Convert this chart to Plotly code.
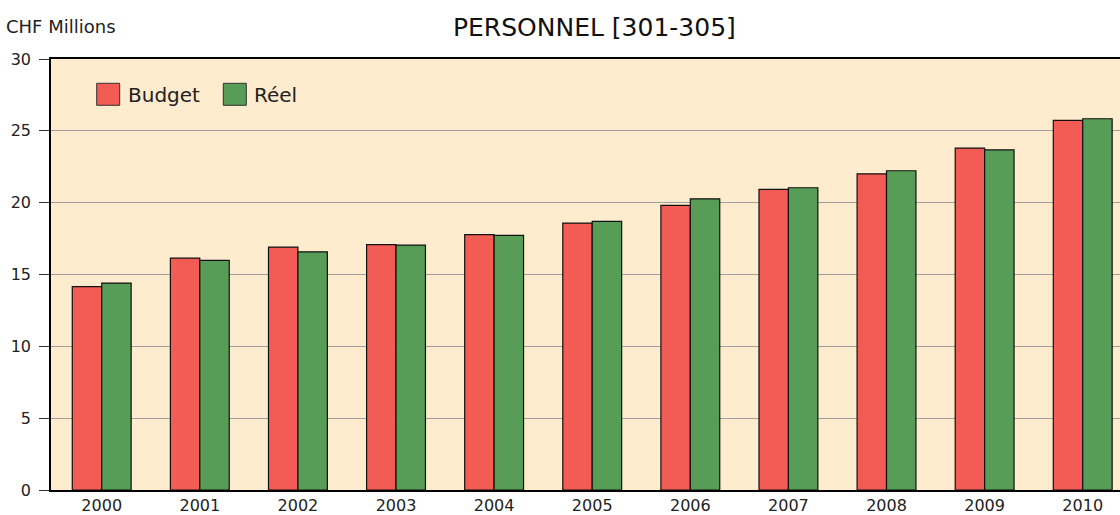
import plotly.graph_objects as go

years = ["2000", "2001", "2002", "2003", "2004", "2005", "2006", "2007", "2008", "2009", "2010"]
budget = [14.15, 16.14, 16.91, 17.08, 17.77, 18.58, 19.81, 20.93, 22.01, 23.80, 25.73]
reel = [14.40, 15.98, 16.58, 17.05, 17.72, 18.70, 20.27, 21.04, 22.22, 23.68, 25.84]
y_ticks = [0, 5, 10, 15, 20, 25, 30]

RED = "#F25C55"
GREEN = "#579C57"
BG = "#FFEBCD"
FONT = "DejaVu Sans"

W, H = 1120, 515
L, R, T, B = 51, 0, 59, 25
pw, ph = W - L - R, H - T - B


def px(x):
    return (x - L) / pw


def py(y):
    return (H - B - y) / ph


fig = go.Figure()
fig.add_trace(go.Bar(x=years, y=budget, name="Budget", marker=dict(color=RED, line=dict(color="#111", width=1.2)), showlegend=False))
fig.add_trace(go.Bar(x=years, y=reel, name="Réel", marker=dict(color=GREEN, line=dict(color="#111", width=1.2)), showlegend=False))

shapes = []
annotations = []
# custom legend
for x0, col, label, tx in [(96.7, RED, "Budget", 126), (223.3, GREEN, "Réel", 252)]:
    shapes.append(dict(type="rect", xref="paper", yref="paper",
                       x0=px(x0), x1=px(x0 + 23), y0=py(105.3), y1=py(83.3),
                       fillcolor=col, line=dict(color="#333", width=1)))
    annotations.append(dict(xref="paper", yref="paper", x=px(tx), y=py(95), xanchor="left", yanchor="middle",
                            text=label, showarrow=False, font=dict(family=FONT, size=20, color="#222")))

annotations.append(dict(xref="paper", yref="paper", x=px(4), y=py(26), xanchor="left", yanchor="middle",
                        text="CHF Millions", showarrow=False, font=dict(family=FONT, size=18, color="#222")))
annotations.append(dict(xref="paper", yref="paper", x=px(594), y=py(27), xanchor="center", yanchor="middle",
                        text="PERSONNEL [301-305]", showarrow=False, font=dict(family=FONT, size=25, color="#111")))

fig.update_layout(
    width=W, height=H,
    margin=dict(l=L, r=R, t=T, b=B, pad=0, autoexpand=False),
    paper_bgcolor="white", plot_bgcolor=BG,
    barmode="group", bargap=0.4, bargroupgap=0,
    shapes=shapes, annotations=annotations,
    font=dict(family=FONT, size=16, color="#222"),
    xaxis=dict(type="category", range=[-0.517, 10.38], showline=True, linecolor="black", linewidth=2,
               mirror=True, ticks="", automargin=False,
               showgrid=False, tickfont=dict(family=FONT, size=16, color="#222")),
    yaxis=dict(range=[0, 30], tickvals=y_ticks, showline=True, linecolor="black", linewidth=1.5,
               ticks="outside", ticklen=10, tickcolor="#333", gridcolor="#A0A0A0", gridwidth=1,
               automargin=False, zeroline=False, tickfont=dict(family=FONT, size=16, color="#222"),
               ticklabelstandoff=5),
)

fig.write_html("out.html", config={"displayModeBar": False},
               post_script="document.body.style.margin='0';document.body.style.overflow='hidden';")
